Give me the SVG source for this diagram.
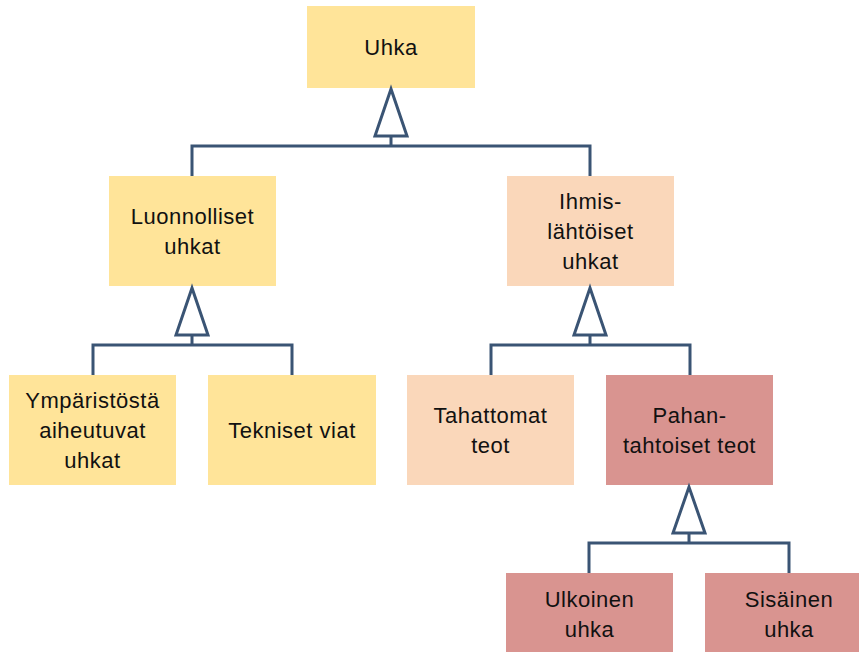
<svg xmlns="http://www.w3.org/2000/svg" width="859" height="652" viewBox="0 0 859 652">
<style>
.y{fill:#FFE499}.p{fill:#FAD7BA}.r{fill:#D99490}
text{font-family:"Liberation Sans",Arial,sans-serif;font-size:22px;letter-spacing:0.5px;fill:#111;text-anchor:middle}
.c{fill:none;stroke:#3A5474;stroke-width:3}
.t{fill:#fff;stroke:#3A5474;stroke-width:3;stroke-linejoin:miter}
</style>
<rect width="859" height="652" fill="#fff"/>
<g id="uhka"><rect class="y" x="307" y="6" width="168" height="82"/><text x="391" y="55">Uhka</text></g>
<g id="luonnolliset"><rect class="y" x="109" y="176" width="167" height="110"/><text x="192.5" y="224">Luonnolliset</text><text x="192.5" y="254">uhkat</text></g>
<g id="ihmis"><rect class="p" x="507" y="176" width="167" height="110"/><text x="590.5" y="209">Ihmis-</text><text x="590.5" y="239">lähtöiset</text><text x="590.5" y="269">uhkat</text></g>
<g id="ymparisto"><rect class="y" x="9" y="375" width="167" height="110"/><text x="92.5" y="408">Ympäristöstä</text><text x="92.5" y="438">aiheutuvat</text><text x="92.5" y="468">uhkat</text></g>
<g id="tekniset"><rect class="y" x="208" y="375" width="168" height="110"/><text x="292" y="438">Tekniset viat</text></g>
<g id="tahattomat"><rect class="p" x="407" y="375" width="167" height="110"/><text x="490.5" y="423">Tahattomat</text><text x="490.5" y="453">teot</text></g>
<g id="pahantahtoiset"><rect class="r" x="606" y="375" width="167" height="110"/><text x="689.5" y="423">Pahan-</text><text x="689.5" y="453">tahtoiset teot</text></g>
<g id="ulkoinen"><rect class="r" x="506" y="573" width="167" height="85"/><text x="589.5" y="607">Ulkoinen</text><text x="589.5" y="637">uhka</text></g>
<g id="sisainen"><rect class="r" x="705" y="573" width="167" height="85"/><text x="789" y="607">Sisäinen</text><text x="789" y="637">uhka</text></g>
<g id="connectors">
<path class="c" d="M391 136V146M192 176V146H590V176"/>
<polygon class="t" points="391,89 375,136 407,136"/>
<path class="c" d="M192 335V345M93 375V345H292V375"/>
<polygon class="t" points="192,288 176,335 208,335"/>
<path class="c" d="M590 335V345M491 375V345H690V375"/>
<polygon class="t" points="590,288 574,335 606,335"/>
<path class="c" d="M689 533V543M589 573V543H789V573"/>
<polygon class="t" points="689,487 673,533 705,533"/>
</g>
</svg>
